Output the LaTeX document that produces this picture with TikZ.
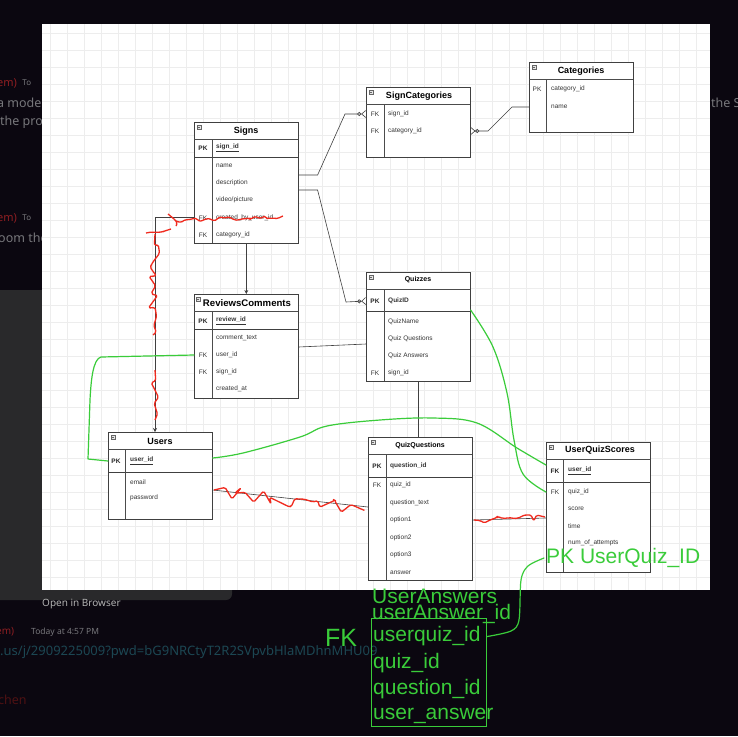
\documentclass[tikz,border=0pt]{standalone}
\usepackage{fontspec}
\setmainfont{Liberation Sans}
\newfontfamily\chatfont{Noto Sans}
\usetikzlibrary{arrows.meta,positioning,calc,decorations.pathmorphing}

\definecolor{bgdark}{HTML}{0B0710}
\definecolor{panelgray}{HTML}{29292B}
\definecolor{hgreen}{HTML}{3ACC3A}
\definecolor{hred}{HTML}{F02A1E}
\definecolor{chatgray}{HTML}{77777B}
\definecolor{chatred}{HTML}{8E1E22}
\definecolor{chatlink}{HTML}{1C4753}

\tikzset{
  tbl/.style={draw=black!75, line width=0.6pt, fill=white, anchor=north west, inner sep=0pt, minimum width=104pt},
  tline/.style={draw=black!70, line width=0.5pt},
  pkline/.style={draw=black!75, line width=0.9pt},
  ttl/.style={font=\fontsize{9}{10}\selectfont\bfseries, inner sep=0pt},
  smallttl/.style={font=\fontsize{7}{8}\selectfont\bfseries, inner sep=0pt},
  fld/.style={font=\fontsize{6.5}{7}\selectfont, anchor=west, inner sep=0pt, text=black!80},
  keycol/.style={font=\fontsize{6.5}{7}\selectfont, inner sep=0pt, text=black!80},
  pkeycol/.style={font=\fontsize{6.5}{7}\selectfont\bfseries, inner sep=0pt, text=black!85},
  rel/.style={draw=black!75, line width=0.6pt},
  zmany/.style={-{Circle[open,length=4pt,width=4pt] Straight Barb[reversed,length=4pt,width=7pt]}},
  arr/.style={-{Stealth[length=4pt,width=4pt]}},
  scribble/.style={draw=hred, line width=1.3pt, line join=round, rounded corners=1.5pt, decorate,
    decoration={random steps, segment length=4pt, amplitude=3pt}},
  ink/.style={draw=hgreen, line width=1.2pt, line cap=round, line join=round},
  inktext/.style={text=hgreen, font=\fontsize{21}{22}\selectfont, inner sep=0pt, anchor=west},
  chat/.style={font=\chatfont\fontsize{12.5}{14}\selectfont, text=chatgray, anchor=west, inner sep=0pt},
  gridln/.style={draw=black!7, line width=0.4pt},
  tblmark/.pic={\draw[draw=black!60, line width=0.4pt, fill=black!10] (0,0) rectangle (4,4);
    \draw[draw=black!60, line width=0.4pt] (0.8,2) -- (3.2,2);},
}

\begin{document}
\begin{tikzpicture}[x=1pt, y=-1pt]
\useasboundingbox (0,0) rectangle (738,736);
\fill[bgdark] (0,0) rectangle (738,736);

% chat window behind the diagram
\node[chat, text=chatred, font=\chatfont\bfseries\fontsize{11}{12}\selectfont] (em1) at (-3,83) {em)};
\node[chat, font=\chatfont\fontsize{8}{9}\selectfont, right=5pt of em1] (to1) {To};
\node[chat] (l1) at (-3,103) {a model};
\node[chat] (l2) at (0,122) {the pro};
\node[chat, text=chatred, font=\chatfont\bfseries\fontsize{11}{12}\selectfont] (em2) at (-3,218) {em)};
\node[chat, font=\chatfont\fontsize{8}{9}\selectfont, right=5pt of em2] (to2) {To};
\node[chat] (l3) at (-2,238) {oom the};
\node[chat] (l4) at (711,103) {the S};
\fill[panelgray, rounded corners=6pt] (-10,290) rectangle (232,600);
\node[chat, font=\chatfont\fontsize{10}{11}\selectfont, text=black!30] (open) at (42,604) {Open in Browser};
\node[chat, text=chatred, font=\chatfont\bfseries\fontsize{10}{11}\selectfont] (em3) at (-4,632) {em)};
\node[chat, font=\chatfont\fontsize{8.5}{9}\selectfont] (today) at (31,632) {Today at 4:57 PM};
\node[chat, text=chatlink, font=\chatfont\fontsize{13}{14}\selectfont] (url) at (0,652) {.us/j/2909225009?pwd=bG9NRCtyT2R2SVpvbHlaMDhnMHU09};
\node[chat, text=chatred!55!black] (chen) at (-2,700) {chen};

% canvas
\fill[white] (42,24) rectangle (710,590);
\foreach \gx in {50,67,...,710} \draw[gridln] (\gx,24) -- (\gx,590);
\foreach \gy in {33,50,...,590} \draw[gridln] (42,\gy) -- (710,\gy);

% Signs
\node[tbl, minimum height=121pt] (signs) at (194,122) {};
\draw[tline] (194,139) -- (298,139);
\draw[pkline] (194,157) -- (298,157);
\draw[tline] (212,139) -- (212,243);
\pic at (197,125) {tblmark};
\node[ttl] (signs-t) at (246,131) {Signs};
\node[pkeycol] at (203,148) {PK};
\node[fld] (signs-pk) at (216,148) {\underline{\textbf{sign\_id}}};
\foreach \f [count=\i] in {name,description,video/picture,created\_by\_user\_id,category\_id}
  \node[fld] (signs-\i) at (216,{148.5+17.25*\i}) {\f};
\node[keycol] at (203,218) {FK};
\node[keycol] at (203,235) {FK};

% SignCategories
\node[tbl, minimum height=70pt] (sc) at (366,87) {};
\draw[tline] (366,104) -- (470,104);
\draw[tline] (384,104) -- (384,157);
\pic at (369,90) {tblmark};
\node[ttl] (sc-t) at (419,96) {SignCategories};
\node[keycol] at (375,114) {FK};
\node[fld] (sc-1) at (388,114) {sign\_id};
\node[keycol] at (375,131) {FK};
\node[fld] (sc-2) at (388,131) {category\_id};

% Categories
\node[tbl, minimum height=70pt] (cat) at (529,62) {};
\draw[tline] (529,79) -- (633,79);
\draw[tline] (546,79) -- (546,132);
\pic at (532,65) {tblmark};
\node[ttl] (cat-t) at (581,71) {Categories};
\node[keycol] at (537,89) {PK};
\node[fld] (cat-1) at (551,89) {category\_id};
\node[fld] (cat-2) at (551,107) {name};

% ReviewsComments
\node[tbl, minimum height=104pt] (rc) at (194,294) {};
\draw[tline] (194,311) -- (298,311);
\draw[pkline] (194,329) -- (298,329);
\draw[tline] (212,311) -- (212,398);
\pic at (196,297) {tblmark};
\node[ttl, font=\fontsize{9.6}{10}\selectfont\bfseries] (rc-t) at (247,303) {ReviewsComments};
\node[pkeycol] at (203,321) {PK};
\node[fld] (rc-pk) at (216,321) {\underline{\textbf{review\_id}}};
\foreach \f [count=\i] in {comment\_text,user\_id,sign\_id,created\_at}
  \node[fld] (rc-\i) at (216,{321+17*\i}) {\f};
\node[keycol] at (203,355) {FK};
\node[keycol] at (203,372) {FK};

% Quizzes
\node[tbl, minimum height=109pt] (qz) at (366,272) {};
\draw[tline] (366,289) -- (470,289);
\draw[pkline] (366,311) -- (470,311);
\draw[tline] (384,289) -- (384,381);
\pic at (369,275) {tblmark};
\node[smallttl] (qz-t) at (418,280) {Quizzes};
\node[pkeycol] at (375,301) {PK};
\node[fld] (qz-pk) at (388,301) {\textbf{QuizID}};
\foreach \f [count=\i] in {QuizName,Quiz Questions,Quiz Answers,sign\_id}
  \node[fld] (qz-\i) at (388,{305+17*\i}) {\f};
\node[keycol] at (375,373) {FK};

% Users
\node[tbl, minimum height=87pt] (us) at (108,432) {};
\draw[tline] (108,449) -- (212,449);
\draw[pkline] (108,472) -- (212,472);
\draw[tline] (125,449) -- (125,519);
\pic at (111,435) {tblmark};
\node[ttl] (us-t) at (160,441) {Users};
\node[pkeycol] at (116,461) {PK};
\node[fld] (us-pk) at (130,461) {\underline{\textbf{user\_id}}};
\node[fld] (us-1) at (130,482) {email};
\node[fld] (us-2) at (130,498) {password};

% QuizQuestions
\node[tbl, minimum height=143pt] (qq) at (368,437) {};
\draw[tline] (368,454) -- (472,454);
\draw[pkline] (368,477) -- (472,477);
\draw[tline] (386,454) -- (386,580);
\pic at (371,440) {tblmark};
\node[smallttl] (qq-t) at (420,446) {QuizQuestions};
\node[pkeycol] at (377,466) {PK};
\node[fld] (qq-pk) at (390,466) {\textbf{question\_id}};
\foreach \f [count=\i] in {quiz\_id,question\_text,option1,option2,option3,answer}
  \node[fld] (qq-\i) at (390,{467.5+17.5*\i}) {\f};
\node[keycol] at (377,485) {FK};

% UserQuizScores
\node[tbl, minimum height=130pt] (uqs) at (546,442) {};
\draw[tline] (546,459) -- (650,459);
\draw[pkline] (546,482) -- (650,482);
\draw[tline] (563,459) -- (563,572);
\pic at (549,445) {tblmark};
\node[ttl] (uqs-t) at (600,450) {UserQuizScores};
\node[pkeycol] at (555,471) {FK};
\node[fld] (uqs-pk) at (568,471) {\underline{\textbf{user\_id}}};
\foreach \f [count=\i] in {quiz\_id,score,time,num\_of\_attempts}
  \node[fld] (uqs-\i) at (568,{475+17*\i}) {\f};
\node[keycol] at (555,492) {FK};

% relations
\draw[rel, zmany] (signs.east |- 0,175) -- ++(19,0) -- (345,114) -- (sc.west |- sc-1);
\draw[rel, zmany] (signs.east |- 0,190) -- ++(19,0) -- (346,302) -- (qz.west |- qz-pk);
\draw[rel, zmany] (cat.west |- cat-2) -- ++(-17,0) -- (488,131) -- (sc.east |- sc-2);
\draw[rel, arr] (signs.south) -- (rc.north);
\draw[rel, arr] (signs.west |- signs-4) -| (us.north -| 155,0);
\draw[rel] (rc.east |- 0,347) -- (qz.west |- 0,344);
\draw[rel] (qz.south) -- (qz.south |- qq.north);
\draw[rel] (us.east |- 0,490) -- (qq.west |- 0,507);
\draw[rel] (qq.east |- qq-3) -- (uqs.west |- 0,518);

% red scribbles
\pgfmathsetseed{11}
\draw[scribble] (146,233) -- (171,229);
\draw[scribble, decoration={amplitude=3.5pt}] (168,214) -- (176,226);
\draw[scribble, decoration={segment length=6pt, amplitude=6pt}] (155,234) -- (153,335);
\draw[scribble, decoration={segment length=6pt, amplitude=5pt}] (155,370) -- (155,420);
\draw[scribble, decoration={segment length=4pt, amplitude=2.5pt}] (176,221) -- (283,216);
\draw[scribble, decoration={segment length=7pt, amplitude=7pt}] (214,490) -- (364,510);
\draw[scribble, decoration={segment length=5pt, amplitude=3.5pt}] (474,520) -- (545,517);

% green notes
\node[inktext] (pkq) at (546,558) {PK UserQuiz\_ID};
\node[inktext] (ua-t) at (372,596) {UserAnswers};
\node[inktext] (ua-0) at (372,614) {userAnswer\_id};
\node[draw=hgreen, line width=1.2pt, minimum width=115pt, minimum height=108pt, anchor=north west, inner sep=0pt] (ua-box) at (371,618) {};
\foreach \f [count=\i] in {userquiz\_id,quiz\_id,question\_id,user\_answer}
  \node[inktext] (ua-\i) at (373,{610+26.5*\i}) {\f};
\node[inktext, font=\fontsize{25}{26}\selectfont] (fk) at (325,638) {FK};
\draw[ink] (rc.west |- rc-2) -- (101,357) .. controls (93,359) and (91,380) .. (90,400) -- (88,459) -- (us.west |- us-pk);
\draw[ink] plot[smooth, tension=0.6] coordinates {(us.east |- 0,458) (243,453) (300,437) (327,426) (380,420) (433,418) (477,423) (517,448) (uqs.west |- 0,465)};
\draw[ink] plot[smooth, tension=0.6] coordinates {(qz.east |- 0,310) (493,347) (507,393) (514,440) (523,474) (uqs.west |- uqs-1)};
\draw[ink] plot[smooth, tension=0.5] coordinates {([xshift=-2pt]pkq.west) (528,566) (521,580) (519,620) (511,631) (ua-box.east |- ua-1)};
\end{tikzpicture}
\end{document}
